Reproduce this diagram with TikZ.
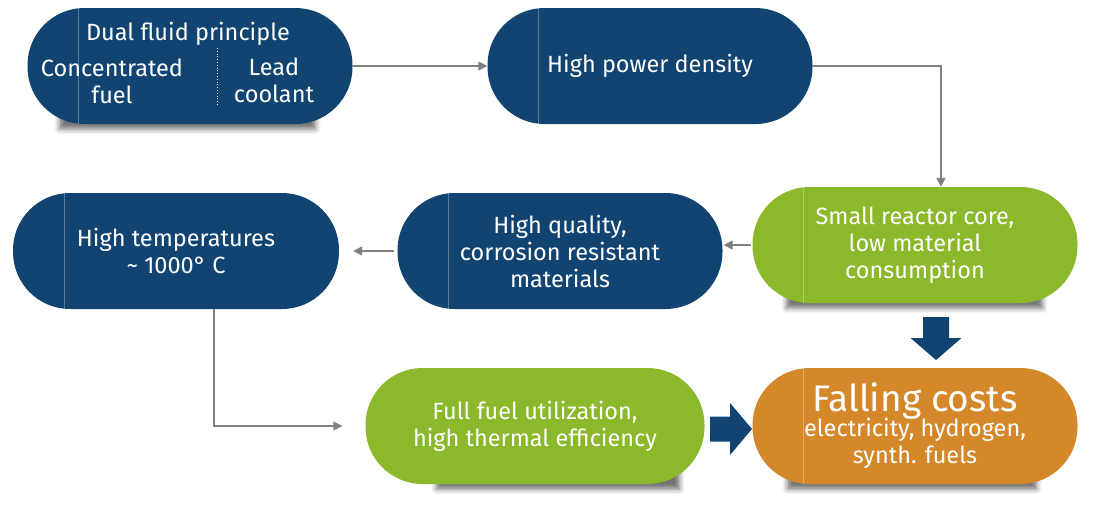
\documentclass[tikz,border=0pt]{standalone}
\usepackage{fontspec}
\setmainfont{Fira Sans}
\usetikzlibrary{arrows.meta,shadows.blur,backgrounds}
\definecolor{dfblue}{RGB}{17,68,113}
\definecolor{dfgreen}{RGB}{140,184,43}
\definecolor{dforange}{RGB}{212,136,42}
\definecolor{dfgray}{RGB}{128,128,128}
\newcommand{\boxshadow}[3]{\path[shade under] ([xshift=#2,yshift=8pt]#1.south west) rectangle ([xshift=-#3,yshift=30pt]#1.south east);}

\begin{document}
\begin{tikzpicture}[x=1pt,y=-1pt,
    box/.style={rounded corners=57pt,minimum width=325pt,minimum height=116pt,inner sep=0pt,
      text=white,align=center,font=\fontsize{23.5}{27}\selectfont},
    txt/.style={text=white,align=center,inner sep=0pt,font=\fontsize{23.5}{27}\selectfont},
    divider/.style={white,opacity=0.3,line width=0.6pt},
    conn/.style={dfgray,line width=1.6pt,-{Triangle[length=9pt,width=9pt]}},
    shade under/.style={blur shadow={shadow xshift=0pt,shadow yshift=-13pt,shadow blur radius=5pt,shadow opacity=55}}]
    \useasboundingbox (0,0) rectangle (1094,504);
    \node[box,fill=dfblue] (dual) at (190,66) {};
    \node[box,fill=dfblue] (power) at (650,66) {High power density};
    \node[box,fill=dfgreen] (core) at (915,245) {Small reactor core,\\low material\\consumption};
    \node[box,fill=dfblue] (quality) at (560,251) {High quality,\\corrosion resistant\\materials};
    \node[box,fill=dfblue,minimum width=326pt] (temp) at (176,251) {High temperatures\\\textasciitilde\ 1000° C};
    \node[box,fill=dfgreen,minimum width=339pt] (util) at (535,426) {Full fuel utilization,\\high thermal efficiency};
    \node[box,fill=dforange] (costs) at (915,426) {{\fontsize{37}{37}\selectfont Falling costs}\\[-2pt]electricity, hydrogen,\\synth. fuels};
    \node[txt] (principle) at (188,34) {Dual fluid principle};
    \node[txt] (fuel) at (112,81) {Concentrated\\fuel};
    \node[txt] (lead) at (274,80) {Lead\\coolant};
    \draw[white,dotted,line width=0.8pt] (217,48) -- (217,106);
    \foreach \n in {dual,power,core,quality,temp,costs}
      \draw[divider] ([xshift=51pt]\n.north west) -- ([xshift=51pt]\n.south west);
    \begin{scope}[on background layer]
      \boxshadow{dual}{32pt}{37pt}
      \boxshadow{core}{34pt}{35pt}
      \boxshadow{util}{71pt}{25pt}
      \boxshadow{costs}{35pt}{41pt}
    \end{scope}
    \draw[conn] (dual) -- (power);
    \draw[conn] (power.east) -| ([xshift=26pt]core.north);
    \draw[conn,shorten <=1pt,shorten >=1pt] (core.west) -- (core.west -| quality.east);
    \draw[conn,shorten <=3pt,shorten >=14pt] (quality.west) -- (temp.east);
    \draw[conn,shorten >=23pt] ([xshift=38pt]temp.south) |- (util.west);
    \coordinate (rtail) at (710,429);
    \fill[dfblue] (rtail) ++(0,-12.5) -- ++(20,0) -- ++(0,-13.5) -- ++(22,26) -- ++(-22,26) -- ++(0,-13.5) -- ++(-20,0) -- cycle;
    \coordinate (dtail) at (936,317);
    \fill[dfblue] (dtail) ++(-13,0) -- ++(0,21) -- ++(-12.5,0) -- ++(25.5,22) -- ++(25.5,-22) -- ++(-12.5,0) -- ++(0,-21) -- cycle;
\end{tikzpicture}
\end{document}
